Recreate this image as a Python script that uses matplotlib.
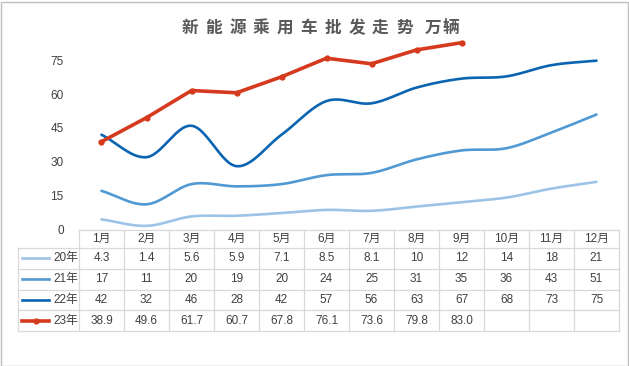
import matplotlib.pyplot as plt
import numpy as np
from matplotlib.patches import Rectangle

plt.rcParams['font.family'] = ['Liberation Sans', 'Noto Sans CJK SC', 'DejaVu Sans']

# ---------------------------------------------------------------------
#  data (万辆)
# ---------------------------------------------------------------------
months = ["1月", "2月", "3月", "4月", "5月", "6月",
          "7月", "8月", "9月", "10月", "11月", "12月"]
y20 = [4.3, 1.4, 5.6, 5.9, 7.1, 8.5, 8.1, 10, 12, 14, 18, 21]
y21 = [17, 11, 20, 19, 20, 24, 25, 31, 35, 36, 43, 51]
y22 = [42, 32, 46, 28, 42, 57, 56, 63, 67, 68, 73, 75]
y23 = [38.9, 49.6, 61.7, 60.7, 67.8, 76.1, 73.6, 79.8, 83.0]
y23_text = ["38.9", "49.6", "61.7", "60.7", "67.8", "76.1", "73.6", "79.8", "83.0"]
series_names = ["20年", "21年", "22年", "23年"]
yticks = [0, 15, 30, 45, 60, 75]
title_main = "新能源乘用车批发走势"
title_unit = "万辆"

C20, C21, C22, C23 = "#9DC3E6", "#5199D3", "#0A64B2", "#D63A1E"
TXT = "#404040"
GRID = "#D9D9D9"


def smooth(xs, ys, n=30):
    """Catmull-Rom style smoothing, similar to Excel's smoothed lines."""
    xs = np.asarray(xs, float)
    ys = np.asarray(ys, float)
    px = np.concatenate([[2 * xs[0] - xs[1]], xs, [2 * xs[-1] - xs[-2]]])
    py = np.concatenate([[2 * ys[0] - ys[1]], ys, [2 * ys[-1] - ys[-2]]])
    ox, oy = [], []
    t = np.linspace(0, 1, n)
    for i in range(1, len(px) - 2):
        for p, out in ((px, ox), (py, oy)):
            p0, p1, p2, p3 = p[i - 1], p[i], p[i + 1], p[i + 2]
            m1 = (p2 - p0) / 2
            m2 = (p3 - p1) / 2
            h00 = 2 * t**3 - 3 * t**2 + 1
            h10 = t**3 - 2 * t**2 + t
            h01 = -2 * t**3 + 3 * t**2
            h11 = t**3 - t**2
            out.extend(h00 * p1 + h10 * m1 + h01 * p2 + h11 * m2)
    return np.array(ox), np.array(oy)


W, H = 629, 366
fig = plt.figure(figsize=(W / 100, H / 100), dpi=100)

# pixel layout
x_left, x_right = 79, 619
y0_px, ytop_px = 229, 27
ax = fig.add_axes([x_left / W, 1 - y0_px / H,
                   (x_right - x_left) / W, (y0_px - ytop_px) / H])
ax.set_xlim(-0.5, 11.5)
ax.set_ylim(0, 90)
for s in ax.spines.values():
    s.set_visible(False)
ax.set_xticks([])
ax.set_yticks(yticks)
ax.tick_params(axis="y", length=0, pad=11, labelsize=8.5, labelcolor=TXT)

x = np.arange(12)
for ys, c in ((y20, C20), (y21, C21), (y22, C22)):
    sx, sy = smooth(x, ys)
    ax.plot(sx, sy, color=c, lw=1.9, solid_capstyle="round", zorder=2)
ax.plot(x[:len(y23)], y23, color=C23, lw=2.6, marker="o", ms=3.5, zorder=3)

# ---------------------------------------------------------------------
#  data table below the plot
# ---------------------------------------------------------------------
col_w = (x_right - x_left) / 12
tab_top, head_bot = 230, 248
row_h = (331 - 248) / 4
lab_left = 18

def fx(px):
    return px / W

def fy(py):
    return 1 - py / H

lw_g = 0.9
# horizontal lines
fig.add_artist(plt.Line2D([fx(x_left), fx(x_right)], [fy(tab_top)] * 2, color=GRID, lw=lw_g))
for r in range(5):
    yy = head_bot + r * row_h
    fig.add_artist(plt.Line2D([fx(lab_left), fx(x_right)], [fy(yy)] * 2, color=GRID, lw=lw_g))
# vertical lines
fig.add_artist(plt.Line2D([fx(lab_left)] * 2, [fy(head_bot), fy(331)], color=GRID, lw=lw_g))
for c in range(13):
    xx = x_left + c * col_w
    fig.add_artist(plt.Line2D([fx(xx)] * 2, [fy(tab_top), fy(331)], color=GRID, lw=lw_g))

for c, m in enumerate(months):
    fig.text(fx(x_left + (c + 0.5) * col_w), fy((tab_top + head_bot) / 2), m,
             ha="center", va="center", fontsize=8.5, color=TXT)

rows = [
    [f"{v:g}" for v in y20],
    [f"{v:g}" for v in y21],
    [f"{v:g}" for v in y22],
    y23_text,
]
colors = [C20, C21, C22, C23]
for r, (vals, name, col) in enumerate(zip(rows, series_names, colors)):
    yc = fy(head_bot + (r + 0.5) * row_h)
    for c, v in enumerate(vals):
        fig.text(fx(x_left + (c + 0.5) * col_w), yc, v,
                 ha="center", va="center", fontsize=8.5, color=TXT)
    lw = 2.6 if r == 3 else 1.9
    fig.add_artist(plt.Line2D([fx(22), fx(49)], [yc, yc], color=col, lw=lw))
    if r == 3:
        fig.add_artist(plt.Line2D([fx(35.5)], [yc], color=col, marker="o", ms=3.5))
    fig.text(fx(78), yc, name, ha="right", va="center", fontsize=8.5, color=TXT)

# title: spaced characters, unit set apart
tkw = dict(ha="center", va="center", fontsize=12, fontweight="bold",
           color="#595959", family="Noto Sans CJK SC")
for i, ch in enumerate(title_main):
    fig.text(fx(190 + 23.8 * i), fy(28), ch, **tkw)
for i, ch in enumerate(title_unit):
    fig.text(fx(433 + 18 * i), fy(28), ch, **tkw)

# outer border
fig.add_artist(Rectangle((0.5 / W, 0.5 / H), (W - 2) / W, (H - 2) / H,
                         transform=fig.transFigure, fill=False,
                         edgecolor="#BFBFBF", lw=1))

fig.savefig("out.png", dpi=100)
